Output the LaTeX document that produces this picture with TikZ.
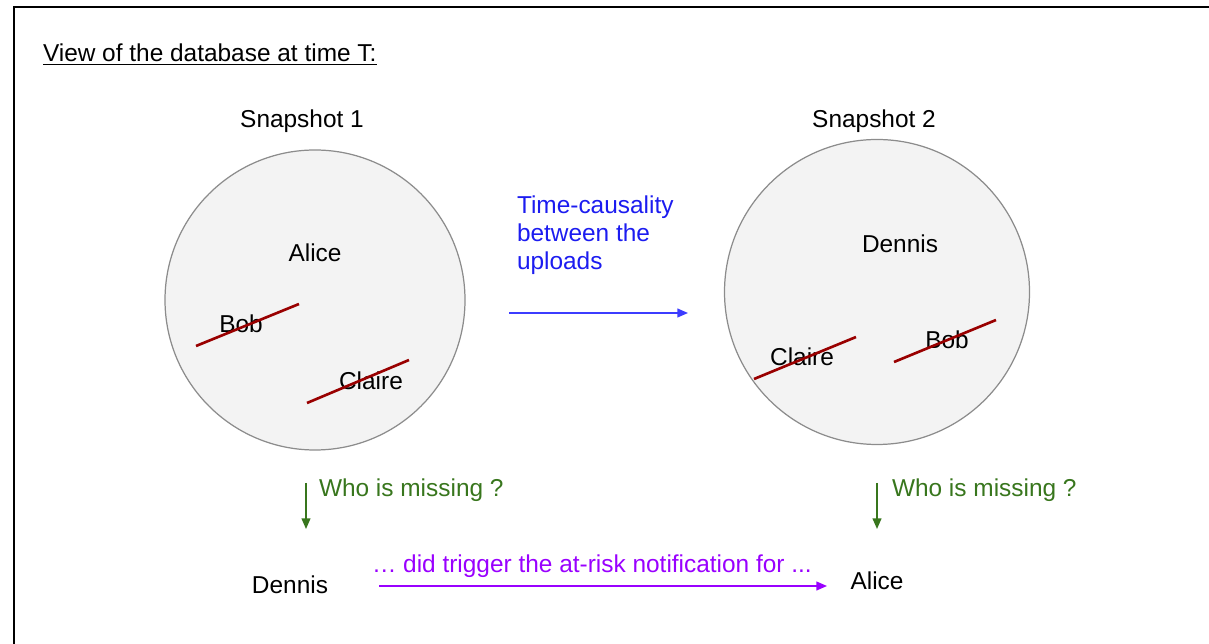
\documentclass[tikz,border=0pt]{standalone}
\usepackage{fontspec}
\setmainfont{Liberation Sans}
\usetikzlibrary{arrows.meta}
\definecolor{circfill}{HTML}{F3F3F3}
\definecolor{circline}{HTML}{8C8C8C}
\definecolor{strike}{HTML}{990000}
\definecolor{bluetxt}{HTML}{1C1CF0}
\definecolor{bluearr}{HTML}{3C3CFF}
\definecolor{greentxt}{HTML}{38761D}
\definecolor{purp}{HTML}{9900FF}
\begin{document}
\begin{tikzpicture}[x=0.02cm,y=-0.02cm,
  txt/.style={inner sep=0pt,outer sep=0pt,font=\fontsize{13.9}{16}\selectfont},
  snap/.style={draw=circline,fill=circfill,line width=0.7pt},
  strikeline/.style={draw=strike,line width=1.5pt},
  arr/.style={line width=0.8pt,-{Triangle[length=6pt,width=5pt]}}]
\useasboundingbox (0,0) rectangle (1209,644);
% frame
\coordinate (fa) at (14,644);
\coordinate (fb) at (14,7);
\coordinate (fc) at (1209,7);
\draw[line width=1.3pt] (fa) -- (fb) -- (fc);
% title
\node[txt,anchor=base west] (title) at (43,62) {\underline{View of the database at time T:}};
\node[txt,anchor=base] (s1) at (302,128) {Snapshot 1};
\node[txt,anchor=base] (s2) at (874,128) {Snapshot 2};
% circles
\node[snap,circle,minimum size=300*0.02cm,inner sep=0pt] (c1) at (315,300) {};
\node[snap,circle,minimum size=305*0.02cm,inner sep=0pt] (c2) at (877,292) {};
% circle 1 contents
\node[txt,anchor=base] (alice1) at (315,262) {Alice};
\node[txt,anchor=base] (bob1) at (241,333) {Bob};
\node[txt,anchor=base] (claire1) at (371,390) {Claire};
\coordinate (b1a) at (196,346); \coordinate (b1b) at (299,304);
\coordinate (c1a) at (307,403); \coordinate (c1b) at (409,360);
\draw[strikeline] (b1a) -- (b1b);
\draw[strikeline] (c1a) -- (c1b);
% circle 2 contents
\node[txt,anchor=base] (dennis2) at (900,253) {Dennis};
\node[txt,anchor=base] (claire2) at (802,366) {Claire};
\node[txt,anchor=base] (bob2) at (947,349) {Bob};
\coordinate (c2a) at (754,379); \coordinate (c2b) at (856,337);
\coordinate (b2a) at (894,362); \coordinate (b2b) at (996,320);
\draw[strikeline] (c2a) -- (c2b);
\draw[strikeline] (b2a) -- (b2b);
% blue causality
\node[txt,anchor=base west,text=bluetxt,align=left] (cause) at (517,270) {Time-causality\\between the\\uploads};
\coordinate (ba) at (509,313); \coordinate (bb) at (688,313);
\draw[arr,draw=bluearr,fill=bluearr] (ba) -- (bb);
% green questions
\coordinate (g1a) at (306,483); \coordinate (g1b) at (306,529);
\coordinate (g2a) at (877,483); \coordinate (g2b) at (877,529);
\draw[arr,draw=greentxt] (g1a) -- (g1b);
\draw[arr,draw=greentxt] (g2a) -- (g2b);
\node[txt,anchor=base west,text=greentxt] (q1) at (319,497) {Who is missing ?};
\node[txt,anchor=base west,text=greentxt] (q2) at (892,497) {Who is missing ?};
% bottom
\node[txt,anchor=base] (dennis) at (290,593) {Dennis};
\node[txt,anchor=base] (alice) at (877,589) {Alice};
\node[txt,anchor=base west,text=purp] (trig) at (372,572) {… did trigger the at-risk notification for ...};
\coordinate (pa) at (379,586);
\coordinate (pb) at (827,586);
\draw[arr,draw=purp] (pa) -- (pb);
\end{tikzpicture}
\end{document}
